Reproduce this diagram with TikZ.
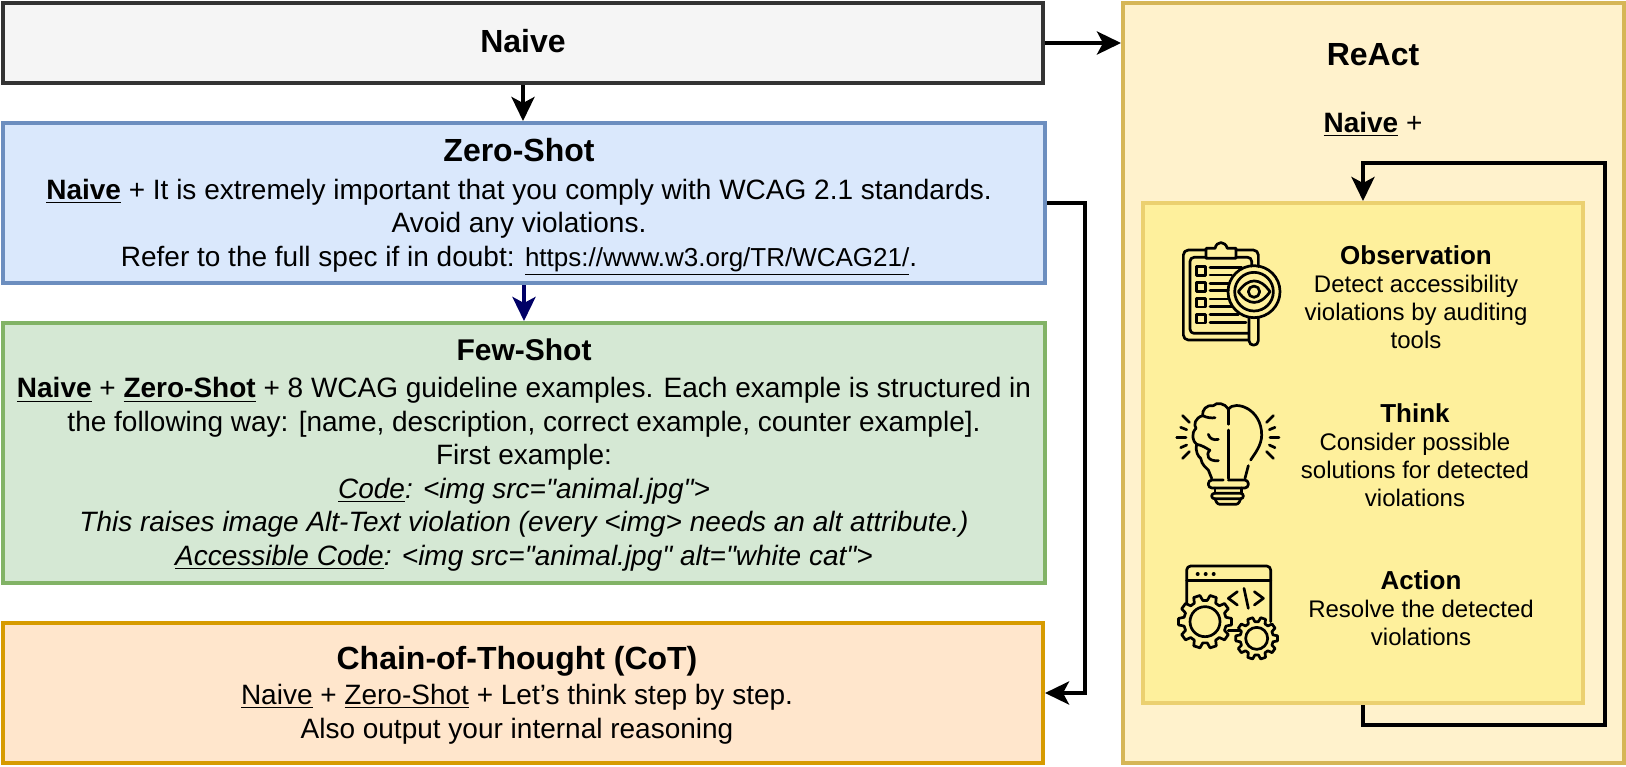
\documentclass[tikz,border=0pt]{standalone}
\usepackage{fontspec}
\setmainfont{Liberation Sans}
\newfontfamily\plainquote{Liberation Sans}
\usetikzlibrary{arrows.meta}
\definecolor{naivefill}{HTML}{F5F5F5}
\definecolor{naiveline}{HTML}{333333}
\definecolor{zerofill}{HTML}{DAE8FC}
\definecolor{zeroline}{HTML}{6C8EBF}
\definecolor{fewfill}{HTML}{D5E8D4}
\definecolor{fewline}{HTML}{82B366}
\definecolor{cotfill}{HTML}{FFE6CC}
\definecolor{cotline}{HTML}{D79B00}
\definecolor{reactfill}{HTML}{FFF2CC}
\definecolor{reactline}{HTML}{D6B656}
\definecolor{loopfill}{HTML}{FEF09C}
\definecolor{loopline}{HTML}{EBD070}
\definecolor{navyarrow}{HTML}{000066}
\tikzset{
    box/.style={rectangle, line width=2pt, inner sep=0pt},
    flow/.style={line width=2pt, -{Stealth[length=12pt,width=11.5pt,inset=3pt]}},
    bodytext/.style={align=center, inner sep=0pt, font=\fontsize{14}{16.75}\selectfont},
    sidetext/.style={align=center, inner sep=0pt, font=\fontsize{12}{14}\selectfont},
    icon/.style={line width=1.35pt, line cap=round, line join=round},
    zoomed/.style={x=0.16667pt, y=-0.16667pt}
}
\newcommand{\heading}[1]{{\fontsize{16}{16.75}\selectfont\bfseries #1}}
\newcommand{\sidehead}[1]{{\fontsize{13}{14}\selectfont\bfseries #1}}
\newcommand{\ubf}[1]{\underline{\textbf{#1}}}
\newcommand{\qt}{{\plainquote"}}
% center x, center y, inner radius, tooth radius, hole radius
\newcommand{\gearicon}[5]{
    \draw[icon, fill=loopfill] ([shift={(#1,#2)}]-12:#3) \foreach \a in {0,36,...,324} {
        -- ([shift={(#1,#2)}]\a-12:#3) -- ([shift={(#1,#2)}]\a-7:#4) -- ([shift={(#1,#2)}]\a+7:#4) -- ([shift={(#1,#2)}]\a+12:#3)
    } -- cycle;
    \draw[icon] (#1,#2) circle[radius=#5];
}
\begin{document}
\begin{tikzpicture}[x=0.5pt, y=-0.5pt]
    \useasboundingbox (0,0) rectangle (1626,766);

    % Prompt boxes
    \node[box, draw=naiveline, fill=naivefill, minimum width=520pt, minimum height=40pt] (naive) at (523,43) {};
    \node[box, draw=zeroline, fill=zerofill, minimum width=521pt, minimum height=80pt] (zeroshot) at (524,203) {};
    \node[box, draw=fewline, fill=fewfill, minimum width=521pt, minimum height=130pt] (fewshot) at (524,453) {};
    \node[box, draw=cotline, fill=cotfill, minimum width=520pt, minimum height=70pt] (cot) at (523,693) {};

    % ReAct boxes
    \node[box, draw=reactline, fill=reactfill, minimum width=250.5pt, minimum height=380pt] (react) at (1373.5,383) {};
    \node[box, draw=loopline, fill=loopfill, minimum width=220pt, minimum height=250pt] (loopbox) at (1363,453) {};

    % Texts on the left
    \node[bodytext] (naivetext) at (523,41) {\heading{Naive}};
    \node[bodytext] (zerotext) at (519,207) {\heading{Zero-Shot}\\[2pt]
        \ubf{Naive} + It is extremely important that you comply with WCAG 2.1 standards.\\
        Avoid any violations.\\
        Refer to the full spec if in doubt: \underline{\fontsize{13}{16.75}\selectfont https://www.w3.org/TR/WCAG21/}.};
    \node[bodytext] (fewtext) at (524,455) {{\fontsize{15}{16.75}\selectfont\bfseries Few-Shot}\\[2pt]
        \ubf{Naive} + \ubf{Zero-Shot} + 8 WCAG guideline examples. Each example is structured in\\
        the following way: [name, description, correct example, counter example].\\
        First example:\\
        \textit{\underline{\textit{Code}}: <img src=\qt animal.jpg\qt>}\\
        \textit{This raises image Alt-Text violation (every <img> needs an alt attribute.)}\\
        \textit{\underline{\textit{Accessible Code}}: <img src=\qt animal.jpg\qt{} alt=\qt white cat\qt>}};
    \node[bodytext] (cottext) at (517,695) {\heading{Chain-of-Thought (CoT)}\\[1pt]
        \underline{Naive} + \underline{Zero-Shot} + Let’s think step by step.\\
        Also output your internal reasoning};

    % Texts on the right
    \node[bodytext] (reacttitle) at (1373,55) {\heading{ReAct}};
    \node[bodytext] (reactnaive) at (1373,124) {\ubf{Naive} +};
    \node[sidetext] (observation) at (1416,297) {\sidehead{Observation}\\
        Detect accessibility\\violations by auditing\\tools};
    \node[sidetext] (think) at (1415,455) {\sidehead{Think}\\
        Consider possible\\solutions for detected\\violations};
    \node[sidetext] (action) at (1421,608) {\sidehead{Action}\\
        Resolve the detected\\violations};

    % Connectors
    \draw[flow] (naive.south) -- (naive.south |- zeroshot.north);
    \draw[flow, draw=navyarrow, fill=navyarrow] (zeroshot.south) -- (fewshot.north);
    \draw[flow] (naive.east) -- (naive.east -| react.west);
    \draw[flow] (zeroshot.east) -- ++(38,0) |- (cot.east);
    \coordinate (loopcorner) at (1605,163);
    \draw[flow] (loopbox.south) -- ++(0,20) -| (loopcorner) -| (loopbox.north);

    % Observation icon
    \begin{scope}[shift={(1100,200)}, zoomed]
        \draw[icon, rounded corners=2.5pt] (318,150) -- (250,150) -- (250,420) -- (445,420);
        \draw[icon, rounded corners=2.5pt] (408,150) -- (475,150) -- (475,200);
        \draw[icon, rounded corners=2pt] (318,172) -- (270,172) -- (270,400) -- (445,400);
        \draw[icon, rounded corners=2pt] (408,172) -- (455,172) -- (455,198);
        \draw[icon] (318,175) -- (318,145) -- (345,145) .. controls (350,122) and (375,122) .. (382,145) -- (408,145) -- (408,175) -- cycle;
        \foreach \y in {200,248,295,343} {
            \draw[icon] (290,\y) rectangle (316,\y+26);
        }
        \foreach \y/\e in {202/425,225/395,250/385,272/385,297/385,320/395,343/415,368/438} {
            \draw[icon] (330,\y) -- (\e,\y);
        }
        \draw[icon] (462,275) circle[radius=78];
        \draw[icon] (462,275) circle[radius=58];
        \draw[icon] (415,275) .. controls (445,232) and (480,232) .. (510,275) .. controls (480,318) and (445,318) .. (415,275) -- cycle;
        \draw[icon] (462,275) circle[radius=17];
        \draw[icon] (447,352) -- (447,422) .. controls (447,440) and (475,440) .. (475,422) -- (475,352);
    \end{scope}

    % Think icon
    \begin{scope}[shift={(1160,395)}, zoomed]
        \draw[icon] (205,250) -- (205,105);
        \draw[icon] (205,88) -- (205,42);
        \draw[icon] (205,42) .. controls (225,15) and (305,40) .. (305,120) .. controls (305,150) and (285,175) .. (272,195);
        \draw[icon] (265,212) -- (255,250);
        \draw[icon] (205,42) .. controls (195,25) and (170,20) .. (160,32) .. controls (140,28) and (125,45) .. (128,62)
            .. controls (105,68) and (100,90) .. (108,100) .. controls (92,115) and (98,140) .. (110,148)
            .. controls (105,170) and (115,185) .. (122,190) .. controls (125,210) and (140,220) .. (145,225) -- (155,250);
        \draw[icon] (128,62) .. controls (140,68) and (155,70) .. (165,68);
        \draw[icon] (145,118) .. controls (148,130) and (160,137) .. (175,133);
        \draw[icon] (110,148) .. controls (125,150) and (140,160) .. (148,165);
        \draw[icon] (150,165) .. controls (135,180) and (145,200) .. (175,197);
        \draw[icon, rounded corners=1.8pt] (190,255) -- (145,255) -- (145,279) -- (265,279) -- (265,255) -- (205,255);
        \draw[icon] (165,279) -- (165,295);
        \draw[icon] (245,279) -- (245,295);
        \draw[icon, rounded corners=1.3pt] (155,295) rectangle (250,311);
        \draw[icon, rounded corners=1.3pt] (165,311) -- (172,328) -- (235,328) -- (242,311);
        % Rays
        \foreach \xa/\ya/\xb/\yb in {68/62/88/82, 62/97/80/104, 50/127/78/127, 62/158/80/150, 68/190/88/170,
            340/62/320/82, 345/97/328/104, 357/127/330/127, 345/158/328/150, 340/190/320/170} {
            \draw[icon] (\xa,\ya) -- (\xb,\yb);
        }
    \end{scope}

    % Action icon
    \begin{scope}[shift={(1160,560)}, zoomed]
        \draw[icon, rounded corners=2pt] (80,130) -- (80,18) -- (332,18) -- (332,185);
        \draw[icon] (80,62) -- (332,62);
        \foreach \x in {113,137,161} {
            \fill (\x,42) circle[radius=6];
        }
        \draw[icon] (232,95) -- (205,115) -- (232,135);
        \draw[icon] (252,85) -- (265,145);
        \draw[icon] (283,95) -- (310,115) -- (283,135);
        \draw[icon] (205,212) -- (240,212);
        \gearicon{135}{185}{64}{80}{45}
        \gearicon{290}{235}{50}{63}{33}
    \end{scope}
\end{tikzpicture}
\end{document}
